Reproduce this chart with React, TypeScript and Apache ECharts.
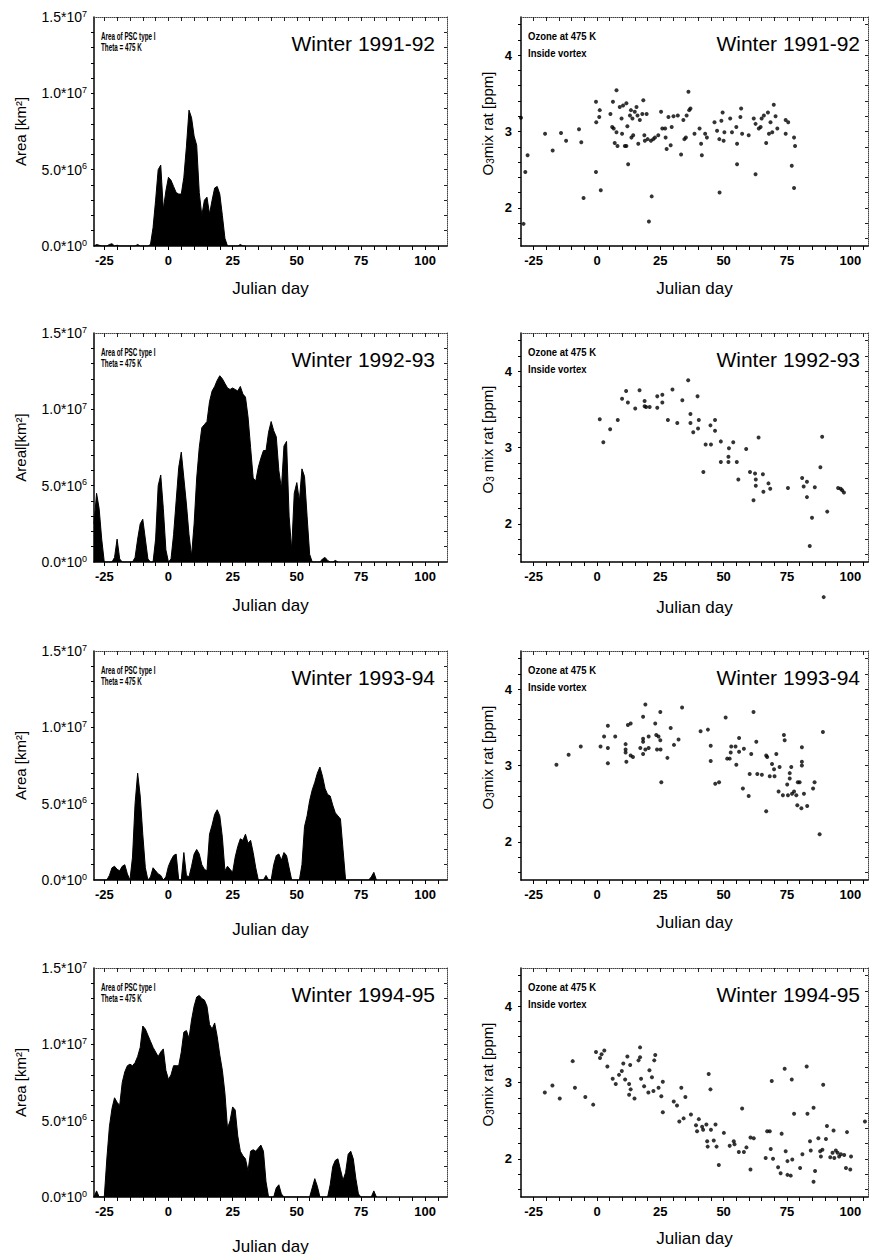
import React, { useEffect, useRef } from 'react';
import * as echarts from 'echarts';

const FONT = "'Liberation Sans', Arial, Helvetica, sans-serif";

// ---------- labels ----------
const winters = ['Winter 1991-92', 'Winter 1992-93', 'Winter 1993-94', 'Winter 1994-95'];
const areaNames = ['Area [km²]', 'Areal[km²]', 'Area [km²]', 'Area [km²]'];
const ozoneNameGaps = ['', ' ', '', ''];
const xAxisName = 'Julian day';
const dayLabels = [-25, 0, 25, 50, 75, 100];
const dayMinorTicks = [-25, -20, -15, -10, -5, 0, 5, 10, 15, 20, 25, 30, 35, 40, 45, 50, 55, 60, 65, 70, 75, 80, 85, 90, 95, 100, 105];
const areaTicks = [0, 5e6, 1e7, 1.5e7];
const areaTickMantissa = ['0.0', '5.0', '1.0', '1.5'];
const areaTickExp = ['0', '6', '7', '7'];
const areaMinorTicksM = [1, 2, 3, 4, 5, 6, 7, 8, 9, 10, 11, 12, 13, 14];
const ozoneTicks = [2, 3, 4];
const ozoneMinorTicks = [1.6, 1.8, 2, 2.2, 2.4, 2.6, 2.8, 3, 3.2, 3.4, 3.6, 3.8, 4, 4.2, 4.4];

// ---------- PSC area (10^6 km²), one value per day starting at day -29 ----------
const areaStartDay = -29;
const area9192 = [
  0, 0.1, 0.05, 0, 0, 0, 0.1, 0.15, 0, 0.05,
  0, 0, 0, 0, 0, 0, 0, 0.1, 0, 0,
  0, 0, 0.1, 1.2, 3.0, 5.0, 5.3, 2.4, 3.6, 4.5,
  4.3, 3.9, 3.5, 3.4, 3.4, 4.5, 6.5, 8.9, 8.4, 7.2,
  6.6, 3.5, 2.0, 3.0, 3.2, 2.1, 3.0, 3.8, 3.9, 3.4,
  2.0, 0.5, 0, 0, 0, 0, 0, 0.1, 0, 0,
];
const area9293 = [
  2.5, 4.5, 3.5, 1.5, 0, 0, 0, 0, 0.3, 1.5,
  0.2, 0, 0, 0, 0, 0, 0.3, 1.5, 2.5, 2.8,
  1.5, 0.2, 0, 0, 1.5, 5.0, 5.7, 3.5, 0.8, 0,
  0.2, 1.8, 4.0, 6.2, 7.2, 5.5, 3.8, 1.8, 0.4, 2.5,
  5.5, 7.5, 8.8, 9.0, 9.2, 10.5, 11.2, 11.5, 11.9, 12.2,
  12.0, 11.7, 11.4, 11.3, 11.4, 11.3, 11.2, 11.5, 11.0, 10.8,
  9.5, 7.5, 5.5, 5.3, 6.2, 6.8, 7.3, 7.3, 8.5, 9.2,
  8.6, 8.2, 6.0, 4.8, 7.6, 7.9, 3.0, 0.8, 4.5, 5.2,
  4.0, 6.1, 5.6, 3.0, 0.5, 0, 0, 0, 0, 0.2,
  0.3, 0.1, 0, 0, 0.1, 0,
];
const area9394 = [
  0, 0, 0, 0, 0, 0, 0.3, 0.8, 0.9, 0.7,
  0.6, 0.9, 1.0, 0.4, 0, 1.5, 5.0, 7.0, 5.5, 3.0,
  0.8, 0, 0.2, 0.8, 0.6, 0.4, 0.3, 0, 0.2, 0.9,
  1.3, 1.6, 1.7, 0, 0, 1.8, 0.3, 0.2, 0.9, 1.7,
  2.0, 1.7, 1.0, 0.7, 0.6, 3.0, 3.6, 4.3, 4.6, 4.2,
  2.8, 0.6, 0.9, 0.7, 0.5, 1.5, 2.2, 2.7, 2.6, 3.0,
  2.4, 2.6, 1.8, 0.8, 0, 0, 0, 0.3, 0, 0,
  1.0, 1.6, 1.7, 1.3, 1.8, 1.6, 0.8, 0, 0, 0,
  0, 1.0, 3.5, 4.2, 5.2, 5.9, 6.4, 7.0, 7.4, 6.8,
  6.0, 5.6, 5.5, 4.9, 4.4, 4.2, 4.0, 2.0, 0, 0,
  0, 0, 0, 0, 0, 0, 0, 0, 0.2, 0.5, 0,
];
const area9495 = [
  0, 0.4, 0, 0, 0, 2.5, 4.6, 5.8, 6.5, 6.2,
  6.0, 7.5, 8.2, 8.6, 8.7, 8.6, 8.8, 9.2, 9.8, 11.2,
  11.0, 10.6, 10.2, 9.8, 9.5, 9.2, 9.5, 9.7, 8.3, 7.7,
  8.0, 8.6, 8.6, 8.6, 9.5, 10.8, 10.9, 10.4, 11.6, 12.5,
  13.1, 13.2, 13.0, 12.9, 12.5, 11.3, 11.0, 11.4, 10.5, 9.3,
  8.3, 6.8, 4.5, 5.0, 5.9, 5.7, 4.0, 3.0, 2.7, 2.5,
  1.7, 3.0, 3.1, 3.0, 3.2, 3.4, 3.0, 1.0, 0, 0,
  0, 0.6, 0.8, 0.2, 0, 0, 0, 0, 0, 0,
  0, 0, 0, 0, 0, 0.6, 1.2, 0.7, 0, 0,
  0, 0, 0.8, 2.0, 2.4, 2.5, 1.8, 1.1, 1.6, 2.8,
  3.0, 2.5, 1.2, 0.2, 0, 0, 0, 0, 0, 0.4, 0,
];

// ---------- Ozone mixing ratio inside vortex [day, ppm] ----------
const ozone9192 = [
  [-30, 3.18], [-29, 1.79], [-28.3, 2.47], [-27.4, 2.69], [-20.5, 2.97], [-17.5, 2.75], [-14.2, 2.98], [-12.2, 2.88],
  [-7.1, 3.03], [-6.2, 2.86], [-5.3, 2.13], [-0.4, 3.39], [-0.4, 2.47], [-0.3, 3.12], [0.9, 3.19], [1.1, 3.28],
  [1.5, 2.23], [5.3, 3.23], [6.3, 3.39], [6, 3.06], [6.6, 3.04], [7, 2.85], [7.7, 3.54], [7.7, 2.99], [8.1, 2.81],
  [9, 3.32], [9.7, 3.17], [9.9, 2.97], [10.3, 3.34], [11, 2.81], [11.6, 2.81], [11.6, 3.37], [12.3, 2.57], [12, 3.07],
  [13, 3.21], [13.4, 3.28], [13.6, 2.92], [14.3, 2.95], [14, 3.17], [14.9, 3.26], [15.6, 3.32], [16, 3.21], [16.3, 2.84],
  [16.9, 3.15], [17.9, 3.23], [18.3, 3.41], [18.7, 2.95], [18.9, 2.88], [19.6, 3.23], [20, 2.9], [20.5, 1.82], [21.3, 2.88],
  [21.6, 2.15], [22.2, 2.9], [22.9, 2.92], [24.2, 2.95], [25.3, 3.26], [25.8, 3.04], [26.9, 3.04], [27.1, 2.92], [27.5, 2.77],
  [28.2, 3.19], [29.1, 2.82], [29.5, 3.06], [30.2, 3.2], [31.9, 3.21], [33.2, 2.7], [34.1, 3.15], [34.5, 2.9], [35.1, 2.92],
  [35.4, 3.21], [36.1, 3.52], [36.4, 3.28], [36.9, 3.3], [38.5, 2.97], [40.5, 3.04], [41.1, 2.84], [41.4, 2.69], [42.7, 2.97],
  [43.4, 2.92], [46.4, 3.12], [47.4, 3.01], [48.3, 2.9], [48.4, 2.2], [49.1, 3.14], [49.6, 3.25], [50, 2.88], [50.3, 2.99],
  [52.6, 3.17], [53.3, 2.99], [55, 3.06], [55.3, 2.84], [55.3, 2.57], [56.6, 3.19], [56.9, 3.3], [57.3, 2.97], [59.9, 2.95],
  [61.9, 3.17], [62.6, 3.1], [62.6, 2.44], [63.9, 3.04], [64.6, 3.06], [65, 3.17], [65.9, 3.21], [66.8, 2.85], [67.5, 3.25],
  [67.9, 2.97], [68.5, 3.12], [69.2, 2.99], [69.8, 3.35], [70.5, 3.2], [71.2, 3.04], [74.5, 3.15], [74.5, 2.97], [75.5, 3.12],
  [76.9, 2.55], [77.8, 2.92], [78.2, 2.81], [77.8, 2.26],
];
const ozone9293 = [
  [1.1, 3.37], [2.5, 3.07], [5.2, 3.24], [8.2, 3.36], [9.9, 3.64], [11.5, 3.74], [12.2, 3.59], [15.1, 3.51], [16.8, 3.75],
  [18.8, 3.61], [18.8, 3.54], [19.4, 3.53], [20.8, 3.53], [23.8, 3.67], [23.8, 3.52], [25.8, 3.69], [25.8, 3.59], [28, 3.36],
  [29.8, 3.76], [31.7, 3.32], [33.7, 3.62], [36, 3.88], [36.9, 3.44], [36.9, 3.32], [38, 3.2], [39.7, 3.67], [40.2, 3.36],
  [39.9, 3.25], [42, 2.68], [42.9, 3.04], [45, 3.04], [44.8, 3.29], [46.6, 3.36], [46.6, 3.22], [48.9, 3.08], [48.9, 2.81],
  [51.9, 2.88], [51.9, 2.81], [52.1, 2.99], [53.8, 3.07], [55.2, 2.81], [55.8, 2.58], [58.9, 2.98], [60.4, 2.68], [61.8, 2.31],
  [62.4, 2.66], [62.7, 2.58], [62.7, 2.5], [63.8, 3.13], [65.5, 2.65], [65.7, 2.42], [67.7, 2.53], [68.4, 2.46], [75.4, 2.47],
  [81, 2.6], [81.6, 2.49], [82.9, 2.55], [82.9, 2.35], [84, 1.71], [84.9, 2.08], [86, 2.48], [88.2, 2.74], [88.9, 3.14],
  [90.9, 2.16], [95.2, 2.47], [96.2, 2.46], [96.8, 2.44], [97.5, 2.41], [89.5, 1.04],
];
const ozone9394 = [
  [-16, 3.01], [-11.2, 3.14], [-6.4, 3.25], [1.4, 3.25], [2.8, 3.38], [4.3, 3.52], [4.3, 3.23], [4.3, 3.03], [7.2, 3.38],
  [11.3, 3.28], [11.3, 3.21], [11.3, 3.17], [11.6, 3.05], [12.2, 3.53], [13.3, 3.55], [13.3, 3.13], [14.2, 3.11], [17.1, 3.23],
  [18.2, 3.64], [18.2, 3.35], [18.2, 3.31], [18.2, 3.15], [19.1, 3.8], [19.1, 3.21], [20.4, 3.38], [20.4, 3.23], [23, 3.55],
  [23.4, 3.4], [23.7, 3.21], [24.3, 3.38], [25, 3.7], [25, 3.33], [25.1, 3.21], [25.4, 2.78], [27.8, 3.1], [29.1, 3.49],
  [30.4, 3.27], [32.2, 3.34], [33.6, 3.76], [40.9, 3.45], [43.8, 3.47], [44.9, 3.26], [44.9, 3.06], [46.7, 2.76], [48.2, 2.78],
  [50.8, 3.63], [51.4, 3.09], [52.4, 3.09], [52.8, 3.17], [53, 3.25], [54.7, 3.25], [55, 3.01], [56.1, 3.36], [56.1, 3.18],
  [57.6, 2.7], [58, 3.22], [59.9, 2.6], [60.3, 2.89], [60.9, 3.15], [61.8, 3.7], [62.9, 3.31], [63.3, 2.89], [65.1, 2.88],
  [66.8, 3.13], [66.8, 2.4], [67.2, 3.11], [68.2, 2.86], [69.1, 3.02], [69.9, 2.95], [70.1, 2.86], [70.8, 3.15], [71.7, 2.66],
  [72.1, 2.98], [73.4, 2.61], [73.8, 3.4], [74.1, 3.33], [75.1, 2.75], [75.4, 2.61], [76.1, 2.9], [76.1, 2.83], [76.7, 2.98],
  [77, 2.63], [77.8, 2.66], [78.7, 2.61], [79.1, 2.48], [79.3, 2.78], [80, 2.78], [80.7, 2.44], [80.9, 3.24], [80.9, 3.05],
  [80.9, 3.0], [81.7, 2.63], [83, 2.47], [85.3, 2.7], [85.9, 2.78], [87.9, 2.1], [89.2, 3.44],
];
const ozone9495 = [
  [-20.6, 2.87], [-17.6, 2.96], [-14.7, 2.79], [-9.6, 3.28], [-8.7, 2.93], [-4.6, 2.81], [-1.5, 2.71], [-0.4, 3.4], [1.2, 3.32],
  [1.8, 3.37], [2.9, 3.42], [4.1, 3.21], [6.2, 3.05], [7.4, 2.98], [8.7, 3.1], [9.8, 3.15], [10.4, 3.25], [11.1, 3.04],
  [12, 3.34], [12.7, 2.98], [12.7, 2.84], [13.1, 3.23], [13.3, 2.91], [14.8, 2.79], [16.4, 3.29], [17, 3.33], [17, 3.46],
  [17.4, 3.05], [18.6, 2.95], [20.3, 2.87], [20.7, 3.16], [21.7, 3.07], [22.3, 2.89], [22.6, 3.29], [23, 3.36], [24.3, 2.93],
  [25.4, 2.82], [26, 3.01], [26, 2.61], [30.3, 2.75], [31.6, 2.7], [32.5, 2.49], [33.3, 2.93], [34.2, 2.53], [34.9, 2.81],
  [37.1, 2.58], [40.2, 2.52], [39.1, 2.44], [39.5, 2.36], [41.5, 2.42], [41.9, 2.38], [43.2, 2.45], [43.5, 2.23], [43.7, 2.16],
  [44.1, 3.11], [44.8, 2.91], [45, 2.38], [46.1, 2.24], [46.8, 2.45], [47.2, 2.16], [48.1, 1.92], [50.1, 2.34], [52.4, 2.17],
  [54, 2.23], [54.3, 2.19], [56, 2.09], [57.3, 2.66], [58, 2.09], [59, 2.15], [60.6, 1.86], [60.6, 2.28], [61.9, 2.27],
  [66.6, 2.01], [67.2, 2.36], [68.2, 2.36], [68.6, 2.13], [69, 3.02], [69.5, 2.0], [71.5, 1.89], [72.5, 1.81], [72.9, 2.33],
  [74.1, 3.18], [74.5, 2.1], [75.2, 1.97], [75.2, 1.79], [76.5, 1.78], [76.9, 3.04], [77.1, 1.99], [77.8, 2.59], [80.2, 1.88],
  [81.1, 2.06], [82.8, 3.21], [83.1, 2.59], [84.1, 2.23], [84.4, 2.11], [85.5, 2.67], [85.5, 1.7], [86.1, 1.84], [87.4, 2.27],
  [88.1, 2.1], [88.4, 2.03], [89, 2.12], [89.3, 2.97], [90.4, 2.26], [90.8, 2.43], [92.1, 2.02], [93, 2.08], [93.4, 2.37],
  [93.7, 2.01], [94.3, 2.11], [95, 2.08], [95.6, 2.03], [96.3, 2.06], [97.6, 2.05], [98.7, 2.35], [98.3, 1.88], [100, 1.86],
  [100.3, 2.03], [105.8, 2.49],
];

const areaSeries = [area9192, area9293, area9394, area9495];
const ozoneSeries = [ozone9192, ozone9293, ozone9394, ozone9495];

// ---------- layout ----------
const ROW_TOP = [17, 333, 651, 968];
const PANEL_H = 229;
const GRID_TOP = 12;
const COLS = [
  { divLeft: 0, divWidth: 460, gridLeft: 94, width: 353, xmin: -29, xmax: 108.5, yNameX: 20, yNameDy: 0 },
  { divLeft: 455, divWidth: 416, gridLeft: 66, width: 347, xmin: -30, xmax: 107, yNameX: 32, yNameDy: -8 },
];
const LEFT_XNAME_OFFSET = [42, 43, 49, 49];
const RIGHT_XNAME_OFFSET = [42, 45, 42, 41];

function buildPanelOption(r: number, c: number) {
  const col = COLS[c];
  const isArea = c === 0;
  const top = GRID_TOP;
  const ymin = isArea ? 0 : 1.5;
  const ymax = isArea ? 1.5e7 : 4.5;
  const yMinor = isArea ? areaMinorTicksM.map((v) => v * 1e6) : ozoneMinorTicks;

  const xAxis: any[] = [
    {
      type: 'value', gridIndex: 0, position: 'bottom', min: col.xmin, max: col.xmax,
      axisLine: { show: true, onZero: false, lineStyle: { color: '#000', width: 1.5 } },
      axisTick: { show: true, inside: false, length: 4, customValues: dayMinorTicks, lineStyle: { color: '#000', width: 1 } },
      axisLabel: {
        show: true, customValues: dayLabels, margin: 8, formatter: (v: number) => String(v),
        color: '#000', fontFamily: FONT, fontSize: 13, fontWeight: 'bold',
      },
      splitLine: { show: false },
    },
    {
      type: 'value', gridIndex: 0, position: 'top', min: col.xmin, max: col.xmax,
      axisLine: { show: true, onZero: false, lineStyle: { color: '#444', width: 1, type: 'dotted' } },
      axisTick: { show: true, inside: true, length: 4, customValues: dayMinorTicks, lineStyle: { color: '#222', width: 1 } },
      axisLabel: { show: false }, splitLine: { show: false },
    },
  ];

  const yLabel: any = isArea
    ? {
        customValues: areaTicks, margin: 7,
        formatter: (v: number) => {
          const i = areaTicks.indexOf(v);
          return `{m|${areaTickMantissa[i]}*10}{s|${areaTickExp[i]}}`;
        },
        rich: {
          m: { fontSize: 14, color: '#000', lineHeight: 16 },
          s: { fontSize: 9, color: '#000', verticalAlign: 'top', lineHeight: 9 },
        },
      }
    : {
        customValues: ozoneTicks, margin: 9, formatter: (v: number) => String(v),
        color: '#000', fontFamily: FONT, fontSize: 13, fontWeight: 'bold',
      };

  const yAxis: any[] = [
    {
      type: 'value', gridIndex: 0, position: 'left', min: ymin, max: ymax,
      axisLine: { show: true, onZero: false, lineStyle: { color: '#000', width: 1.5 } },
      axisTick: { show: true, inside: false, length: 3, customValues: yMinor, lineStyle: { color: '#000', width: 1 } },
      axisLabel: yLabel,
      splitLine: { show: false },
    },
    {
      type: 'value', gridIndex: 0, position: 'right', min: ymin, max: ymax,
      axisLine: { show: true, onZero: false, lineStyle: { color: '#444', width: 1, type: 'dotted' } },
      axisTick: { show: true, inside: true, length: 3, customValues: yMinor, lineStyle: { color: '#222', width: 1 } },
      axisLabel: { show: false }, splitLine: { show: false },
    },
  ];

  const series: any[] = [];
  const textBase = { fill: '#000', fontFamily: FONT, textAlign: 'left', textVerticalAlign: 'middle' };
  const gridMidX = col.gridLeft + col.width / 2;
  const gridMidY = top + PANEL_H / 2;
  const graphic: any[] = [
    {
      type: 'text', x: gridMidX, y: top + PANEL_H + (isArea ? LEFT_XNAME_OFFSET[r] : RIGHT_XNAME_OFFSET[r]),
      style: { ...textBase, text: xAxisName, fontSize: 17, textAlign: 'center' },
    },
    isArea
      ? {
          type: 'text', x: col.yNameX, y: gridMidY + col.yNameDy, rotation: Math.PI / 2,
          style: { ...textBase, text: areaNames[r], fontSize: 15, textAlign: 'center' },
        }
      : {
          type: 'text', x: col.yNameX, y: gridMidY + col.yNameDy, rotation: Math.PI / 2,
          style: {
            ...textBase, fontSize: 15, textAlign: 'center',
            text: '{t|O}{b|3}{t|' + ozoneNameGaps[r] + 'mix rat [ppm]}',
            rich: {
              t: { fontSize: 15, fontFamily: FONT, fill: '#000', lineHeight: 17 },
              b: { fontSize: 10, fontFamily: FONT, fill: '#000', verticalAlign: 'bottom', lineHeight: 10 },
            },
          },
        },
  ];

  if (isArea) {
    const vals = areaSeries[r];
    series.push({
      type: 'line', xAxisIndex: 0, yAxisIndex: 0,
      data: vals.map((v, i) => [areaStartDay + i, v * 1e6]),
      symbol: 'none', silent: true,
      lineStyle: { color: '#000', width: 1 },
      areaStyle: { color: '#000', opacity: 1 },
    });
    graphic.push(
      { type: 'text', x: col.gridLeft + 7, y: top + 19, scaleX: 0.6, style: { ...textBase, text: 'Area of PSC type I', fontSize: 10.5, fontWeight: 'bold' } },
      { type: 'text', x: col.gridLeft + 7, y: top + 30.5, scaleX: 0.6, style: { ...textBase, text: 'Theta = 475 K', fontSize: 10.5, fontWeight: 'bold' } },
      { type: 'text', x: col.gridLeft + col.width - 12, y: top + 26, style: { ...textBase, text: winters[r], fontSize: 21, textAlign: 'right' } },
    );
  } else {
    series.push({
      type: 'scatter', xAxisIndex: 0, yAxisIndex: 0,
      data: ozoneSeries[r], symbol: 'circle', symbolSize: 4, clip: false, silent: true,
      itemStyle: { color: '#000' },
    });
    graphic.push(
      { type: 'text', x: col.gridLeft + 7, y: top + 19.5, scaleX: 0.95, style: { ...textBase, text: 'Ozone at 475 K', fontSize: 10, fontWeight: 'bold' } },
      { type: 'text', x: col.gridLeft + 7, y: top + 36, scaleX: 0.95, style: { ...textBase, text: 'Inside vortex', fontSize: 10, fontWeight: 'bold' } },
      { type: 'text', x: col.gridLeft + col.width - 8, y: top + 26, style: { ...textBase, text: winters[r], fontSize: 21, textAlign: 'right' } },
    );
  }

  return {
    animation: false,
    textStyle: { fontFamily: FONT },
    grid: [{ left: col.gridLeft, top, width: col.width, height: PANEL_H }],
    xAxis, yAxis, series, graphic,
  };
}

function Panel({ r, c }: { r: number; c: number }) {
  const ref = useRef<HTMLDivElement>(null);
  const col = COLS[c];
  useEffect(() => {
    if (!ref.current) return;
    const chart = echarts.init(ref.current, undefined, { renderer: 'svg' });
    chart.setOption(buildPanelOption(r, c) as any);
    return () => chart.dispose();
  }, [r, c]);
  return (
    <div
      ref={ref}
      style={{ position: 'absolute', left: col.divLeft, top: ROW_TOP[r] - GRID_TOP, width: col.divWidth, height: 300 }}
    />
  );
}

export default function App() {
  const cells: { r: number; c: number }[] = [];
  for (let r = 0; r < 4; r++) for (let c = 0; c < 2; c++) cells.push({ r, c });
  return (
    <div style={{ position: 'fixed', left: 0, top: 0, width: 871, height: 1254, overflow: 'hidden', background: '#fff' }}>
      {cells.map(({ r, c }) => <Panel key={`${r}-${c}`} r={r} c={c} />)}
    </div>
  );
}
